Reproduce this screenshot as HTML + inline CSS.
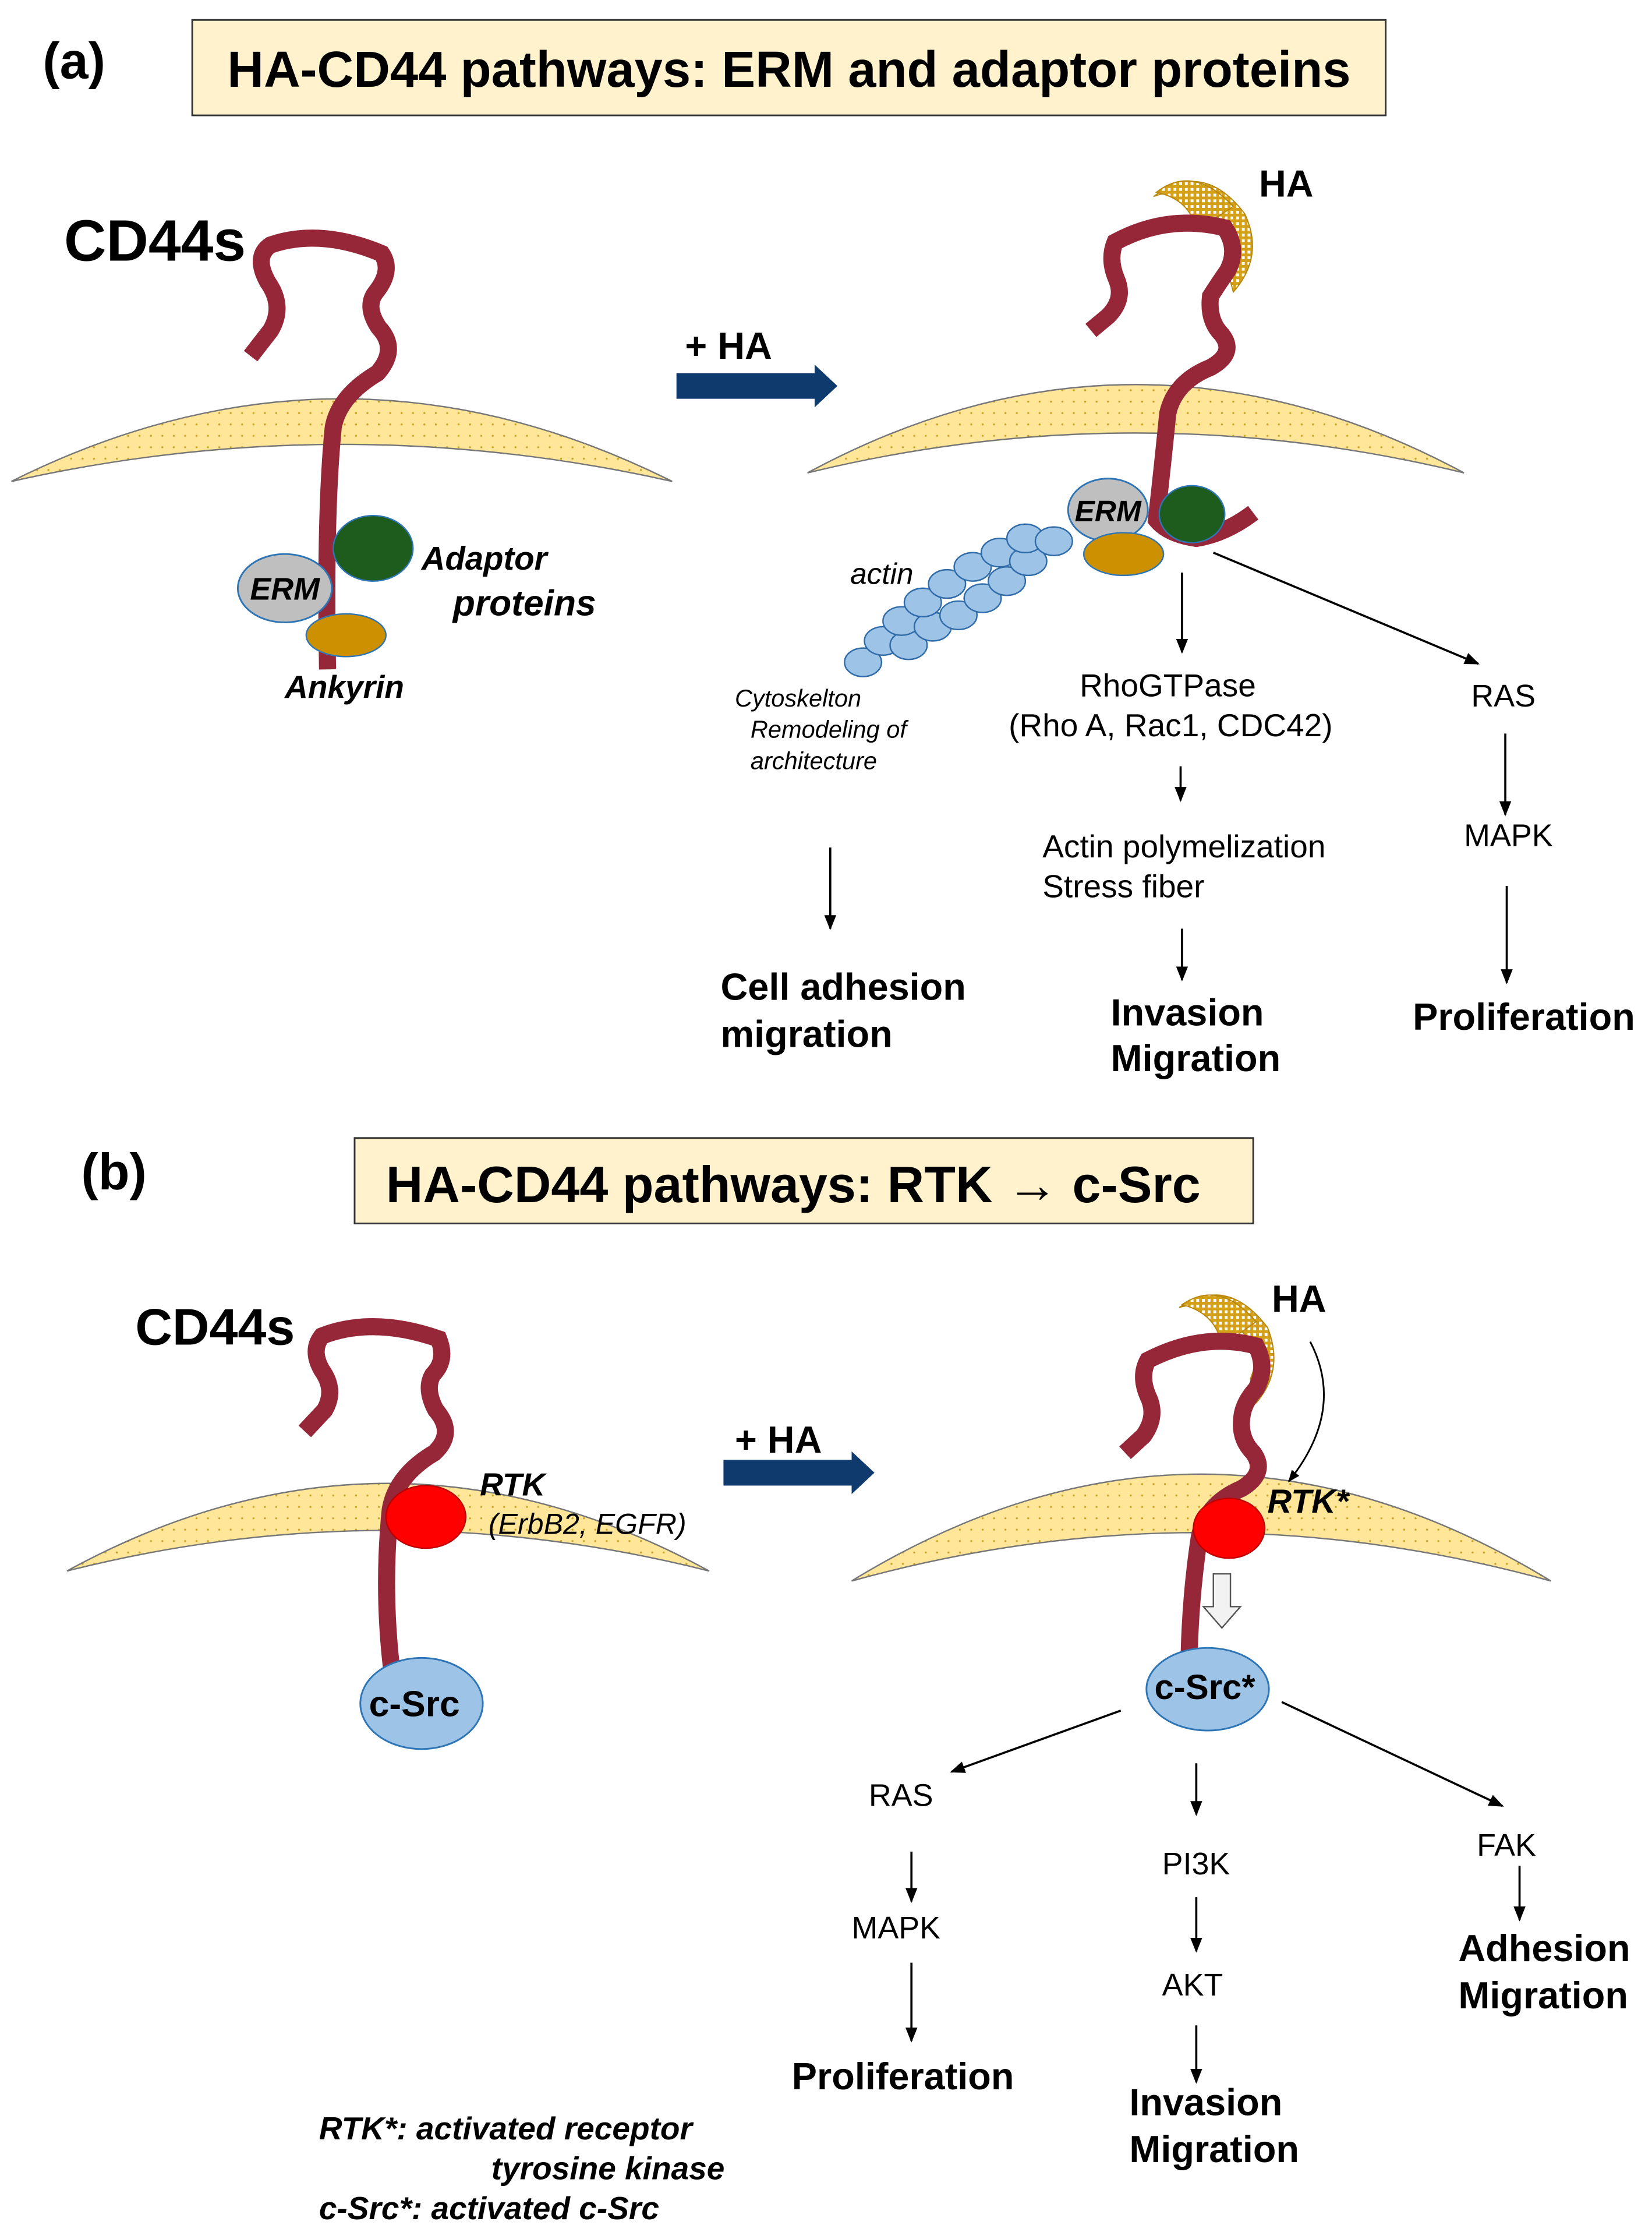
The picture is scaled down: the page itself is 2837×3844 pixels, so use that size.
<!DOCTYPE html>
<html><head><meta charset="utf-8"><style>
html,body{margin:0;padding:0;background:#fff}
svg{display:block}
text{font-family:"Liberation Sans",Arial,sans-serif}
.b{font-weight:bold}
.i{font-style:italic}
</style></head><body>
<svg width="2837" height="3844" viewBox="0 0 1160 1572" preserveAspectRatio="none" xmlns="http://www.w3.org/2000/svg">
<defs>
<pattern id="dots" width="8" height="8" patternUnits="userSpaceOnUse">
<rect width="8" height="8" fill="#FFE699"/><circle cx="2" cy="2" r="0.7" fill="#C9A227"/>
</pattern>
<pattern id="mesh" width="4" height="4" patternUnits="userSpaceOnUse">
<rect width="4" height="4" fill="#D4A017"/><rect width="2" height="2" fill="#fff"/>
</pattern>
<marker id="ah" viewBox="0 0 10 10" refX="9" refY="5" markerWidth="7" markerHeight="7" orient="auto"><path d="M0,1 L10,5 L0,9 z" fill="#000"/></marker>
</defs>

<!-- (a) -->
<text x="30" y="55" class="b" font-size="36">(a)</text>
<rect x="135" y="14" width="838" height="67" fill="#FFF2CC" stroke="#333" stroke-width="1.2"/>
<text x="554" y="61" class="b" font-size="35.5" text-anchor="middle">HA-CD44 pathways: ERM and adaptor proteins</text>
<text x="45" y="183" class="b" font-size="41">CD44s</text>

<path d="M8,338 Q240,222 472,338 Q240,286 8,338 Z" fill="url(#dots)" stroke="#777" stroke-width="1"/>
<path d="M176,250 L190,232 Q200,215 188,198 Q178,180 190,172 Q225,160 268,178 Q276,190 264,205 Q256,215 266,230 Q280,245 265,262 Q238,278 234,300 Q228,360 230,470" fill="none" stroke="#962738" stroke-width="12"/>
<ellipse cx="200" cy="413" rx="33" ry="24" fill="#BFBFBF" stroke="#2E75B6" stroke-width="1.2"/>
<text x="200" y="421" class="b i" font-size="22" text-anchor="middle">ERM</text>
<ellipse cx="262" cy="385" rx="28" ry="23" fill="#1E5C1E" stroke="#2E75B6" stroke-width="1"/>
<ellipse cx="243" cy="446" rx="28" ry="15" fill="#CC9000" stroke="#2E75B6" stroke-width="1"/>
<text x="296" y="400" class="b i" font-size="23">Adaptor</text>
<text x="318" y="432" class="b i" font-size="25.5">proteins</text>
<text x="200" y="490" class="b i" font-size="22.5">Ankyrin</text>

<text x="481" y="252" class="b" font-size="26.5">+ HA</text>
<path d="M475,262 L572,262 L572,256 L588,271 L572,286 L572,280 L475,280 Z" fill="#0F3A6E"/>

<path d="M567,332 Q797,208 1028,332 Q797,276 567,332 Z" fill="url(#dots)" stroke="#777" stroke-width="1"/>
<path d="M862,190 Q872,165 850,148 Q830,130 810,138 Q845,112 874,150 Q888,180 866,205 Z" fill="url(#mesh)" stroke="#B8860B" stroke-width="0.8"/>
<path d="M840,162 Q836,140 812,135 Q838,115 866,145 Z" fill="url(#mesh)" stroke="#B8860B" stroke-width="0.8"/>
<path d="M766,232 L778,222 Q790,210 784,196 Q778,182 783,170 Q820,150 860,160 Q870,175 862,190 Q855,200 850,208 Q848,225 858,235 Q868,248 850,258 Q825,268 820,290 Q816,330 812,365 Q820,375 840,378 Q860,375 880,360" fill="none" stroke="#962738" stroke-width="12"/>
<text x="884" y="138" class="b" font-size="26.5">HA</text>
<g fill="#9DC3E6" stroke="#2E6BA8" stroke-width="1">
<ellipse cx="606" cy="465" rx="13" ry="10"/><ellipse cx="620" cy="450" rx="13" ry="10"/><ellipse cx="638" cy="453" rx="13" ry="10"/>
<ellipse cx="633" cy="436" rx="13" ry="10"/><ellipse cx="655" cy="440" rx="13" ry="10"/><ellipse cx="648" cy="423" rx="13" ry="10"/>
<ellipse cx="673" cy="432" rx="13" ry="10"/><ellipse cx="665" cy="410" rx="13" ry="10"/><ellipse cx="690" cy="420" rx="13" ry="10"/>
<ellipse cx="683" cy="398" rx="13" ry="10"/><ellipse cx="707" cy="408" rx="13" ry="10"/><ellipse cx="702" cy="388" rx="13" ry="10"/>
<ellipse cx="722" cy="394" rx="13" ry="10"/><ellipse cx="720" cy="378" rx="13" ry="10"/><ellipse cx="740" cy="380" rx="13" ry="10"/>
</g>
<ellipse cx="778" cy="358" rx="28" ry="22" fill="#BFBFBF" stroke="#2E75B6" stroke-width="1.2"/>
<text x="778" y="366" class="b i" font-size="21" text-anchor="middle">ERM</text>
<ellipse cx="837" cy="361" rx="23" ry="20" fill="#1E5C1E" stroke="#2E75B6" stroke-width="1"/>
<ellipse cx="789" cy="389" rx="28" ry="15" fill="#CC9000" stroke="#2E75B6" stroke-width="1"/>
<text x="597" y="410" class="i" font-size="21">actin</text>
<text x="516" y="496" class="i" font-size="17">Cytoskelton</text>
<text x="527" y="518" class="i" font-size="17">Remodeling of</text>
<text x="527" y="540" class="i" font-size="17">architecture</text>

<g stroke="#000" stroke-width="1.5" marker-end="url(#ah)">
<line x1="830" y1="402" x2="830" y2="458"/>
<line x1="829" y1="538" x2="829" y2="562"/>
<line x1="830" y1="652" x2="830" y2="688"/>
<line x1="852" y1="388" x2="1038" y2="466"/>
<line x1="1057" y1="515" x2="1057" y2="572"/>
<line x1="1058" y1="622" x2="1058" y2="690"/>
<line x1="583" y1="595" x2="583" y2="652"/>
</g>
<text x="820" y="489" font-size="22.5" text-anchor="middle">RhoGTPase</text>
<text x="822" y="517" font-size="22.5" text-anchor="middle">(Rho A, Rac1, CDC42)</text>
<text x="732" y="602" font-size="22.5">Actin polymelization</text>
<text x="732" y="630" font-size="22.5">Stress fiber</text>
<text x="780" y="720" class="b" font-size="26.5">Invasion</text>
<text x="780" y="752" class="b" font-size="26.5">Migration</text>
<text x="1033" y="496" font-size="22">RAS</text>
<text x="1028" y="594" font-size="22">MAPK</text>
<text x="992" y="723" class="b" font-size="26.5">Proliferation</text>
<text x="506" y="702" class="b" font-size="26.5">Cell adhesion</text>
<text x="506" y="735" class="b" font-size="26.5">migration</text>

<!-- (b) -->
<text x="57" y="835" class="b" font-size="36">(b)</text>
<rect x="249" y="799" width="631" height="60" fill="#FFF2CC" stroke="#333" stroke-width="1.2"/>
<text x="557" y="844" class="b" font-size="36" text-anchor="middle">HA-CD44 pathways: RTK → c-Src</text>
<text x="95" y="944" class="b" font-size="36">CD44s</text>

<path d="M47,1103 Q272,980 498,1103 Q272,1046 47,1103 Z" fill="url(#dots)" stroke="#777" stroke-width="1"/>
<path d="M214,1005 L228,990 Q236,976 226,962 Q218,948 226,938 Q262,924 308,940 Q314,955 304,965 Q298,975 306,990 Q320,1006 305,1020 Q278,1036 274,1060 Q268,1120 276,1180" fill="none" stroke="#962738" stroke-width="12"/>
<ellipse cx="299" cy="1065" rx="28" ry="22" fill="#FF0000" stroke="#C00000" stroke-width="1"/>
<text x="337" y="1050" class="b i" font-size="22.5">RTK</text>
<text x="343" y="1077" class="i" font-size="20.5">(ErbB2, EGFR)</text>
<ellipse cx="296" cy="1196" rx="43" ry="32" fill="#9DC3E6" stroke="#2E75B6" stroke-width="1.2"/>
<text x="291" y="1205" class="b" font-size="25.5" text-anchor="middle">c-Src</text>

<text x="516" y="1020" class="b" font-size="26.5">+ HA</text>
<path d="M508,1025 L598,1025 L598,1019 L614,1034 L598,1049 L598,1043 L508,1043 Z" fill="#0F3A6E"/>

<path d="M598,1110 Q843,960 1089,1110 Q843,1042 598,1110 Z" fill="url(#dots)" stroke="#777" stroke-width="1"/>
<path d="M878,968 Q888,945 866,930 Q848,912 828,918 Q862,895 890,932 Q902,962 882,985 Z" fill="url(#mesh)" stroke="#B8860B" stroke-width="0.8"/>
<path d="M858,945 Q854,922 830,916 Q856,898 882,928 Z" fill="url(#mesh)" stroke="#B8860B" stroke-width="0.8"/>
<path d="M790,1020 L803,1008 Q813,994 806,980 Q800,966 806,955 Q845,935 882,945 Q890,960 882,975 Q873,985 872,995 Q870,1010 880,1020 Q890,1034 872,1045 Q846,1056 842,1080 Q836,1120 835,1162" fill="none" stroke="#962738" stroke-width="12"/>
<text x="893" y="921" class="b" font-size="26.5">HA</text>
<path d="M920,942 Q945,990 905,1040" fill="none" stroke="#000" stroke-width="1.2" marker-end="url(#ah)"/>
<ellipse cx="863" cy="1073" rx="25" ry="21" fill="#FF0000" stroke="#C00000" stroke-width="1"/>
<text x="890" y="1062" class="b i" font-size="23.5">RTK*</text>
<path d="M852,1105 L864,1105 L864,1128 L871,1128 L858,1143 L845,1128 L852,1128 Z" fill="#F2F2F2" stroke="#555" stroke-width="1"/>
<ellipse cx="848" cy="1186" rx="43" ry="29" fill="#9DC3E6" stroke="#2E75B6" stroke-width="1.2"/>
<text x="846" y="1193" class="b" font-size="24.5" text-anchor="middle">c-Src*</text>

<g stroke="#000" stroke-width="1.5" marker-end="url(#ah)">
<line x1="787" y1="1201" x2="668" y2="1244"/>
<line x1="640" y1="1300" x2="640" y2="1335"/>
<line x1="640" y1="1378" x2="640" y2="1433"/>
<line x1="840" y1="1238" x2="840" y2="1274"/>
<line x1="840" y1="1332" x2="840" y2="1370"/>
<line x1="840" y1="1422" x2="840" y2="1462"/>
<line x1="900" y1="1195" x2="1055" y2="1268"/>
<line x1="1067" y1="1310" x2="1067" y2="1348"/>
</g>
<text x="610" y="1268" font-size="22">RAS</text>
<text x="598" y="1361" font-size="22">MAPK</text>
<text x="556" y="1467" class="b" font-size="26.5">Proliferation</text>
<text x="816" y="1316" font-size="22">PI3K</text>
<text x="816" y="1401" font-size="22">AKT</text>
<text x="793" y="1485" class="b" font-size="26.5">Invasion</text>
<text x="793" y="1518" class="b" font-size="26.5">Migration</text>
<text x="1037" y="1303" font-size="22">FAK</text>
<text x="1024" y="1377" class="b" font-size="26.5">Adhesion</text>
<text x="1024" y="1410" class="b" font-size="26.5">Migration</text>

<text x="224" y="1502" class="b i" font-size="22.5">RTK*: activated receptor</text>
<text x="345" y="1530" class="b i" font-size="22.5">tyrosine kinase</text>
<text x="224" y="1558" class="b i" font-size="22.5">c-Src*: activated c-Src</text>
</svg>
</body></html>
